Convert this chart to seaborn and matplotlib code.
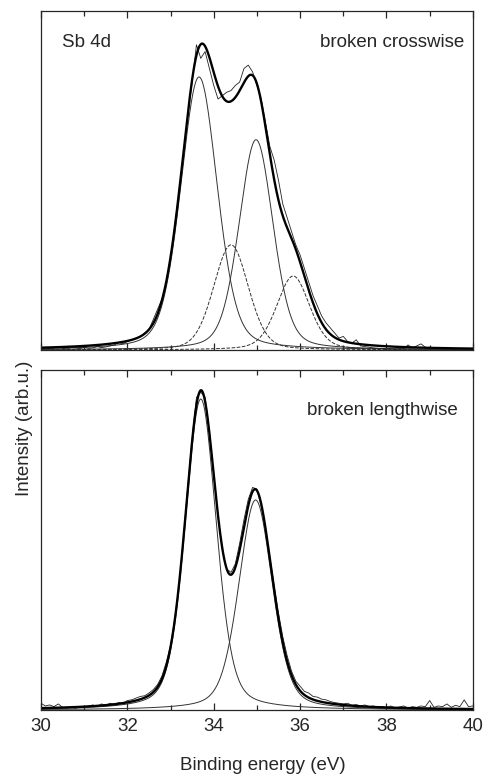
import numpy as np
import pandas as pd
import seaborn as sns
import matplotlib
matplotlib.use("Agg")
import matplotlib.pyplot as plt
from matplotlib.ticker import MultipleLocator

# --- Sb 4d peak fit parameters ---
# broken crosswise: two solid doublet components + two dashed components
cross_centers = [33.66, 34.98, 34.40, 35.84]
cross_heights = [0.805, 0.62, 0.31, 0.218]
cross_fwhm = [1.00, 0.93, 0.95, 0.90]
cross_lorentz = [0.28, 0.28, 0.22, 0.30]

# broken lengthwise: one doublet
length_centers = [33.70, 34.97]
length_heights = [0.915, 0.618]
length_fwhm = [0.85, 0.92]
length_lorentz = [0.33, 0.33]

# measured spectra, 0.1 eV steps starting at 30.0 eV
cross_measured = [
    0.005, 0.008, 0.004, 0.006, 0.010, 0.005, 0.003, 0.007, 0.006, 0.004,
    0.008, 0.005, 0.006, 0.010, 0.007, 0.009, 0.012, 0.015, 0.022, 0.018,
    0.025, 0.030, 0.035, 0.040, 0.050, 0.060, 0.090, 0.120, 0.150, 0.200,
    0.270, 0.370, 0.470, 0.580, 0.690, 0.790, 0.900, 0.860, 0.880, 0.830,
    0.780, 0.740, 0.750, 0.760, 0.765, 0.780, 0.790, 0.830, 0.840, 0.820,
    0.780, 0.740, 0.670, 0.600, 0.560, 0.500, 0.430, 0.390, 0.350, 0.310,
    0.280, 0.240, 0.200, 0.160, 0.130, 0.100, 0.080, 0.065, 0.050, 0.035,
    0.040, 0.025, 0.020, 0.030, 0.012, 0.010, 0.008, 0.006, 0.005, 0.004,
    0.003, 0.004, 0.002, 0.003, 0.004, 0.015, 0.006, 0.012, 0.018, 0.008,
    0.003,
]
length_measured = [
    0.020, 0.012, 0.015, 0.010, 0.018, 0.008, 0.006, 0.008, 0.005, 0.010,
    0.008, 0.012, 0.015, 0.010, 0.018, 0.014, 0.020, 0.017, 0.022, 0.020,
    0.028, 0.030, 0.035, 0.040, 0.042, 0.050, 0.060, 0.075, 0.100, 0.140,
    0.190, 0.270, 0.370, 0.510, 0.660, 0.800, 0.920, 0.935, 0.920, 0.820,
    0.690, 0.570, 0.470, 0.415, 0.405, 0.430, 0.490, 0.560, 0.620, 0.655,
    0.650, 0.600, 0.535, 0.450, 0.365, 0.285, 0.215, 0.160, 0.115, 0.085,
    0.070, 0.055, 0.050, 0.040, 0.038, 0.032, 0.030, 0.025, 0.022, 0.020,
    0.018, 0.020, 0.014, 0.016, 0.012, 0.015, 0.010, 0.012, 0.008, 0.010,
    0.007, 0.012, 0.006, 0.009, 0.012, 0.006, 0.010, 0.008, 0.012, 0.010,
    0.028, 0.008, 0.012, 0.010, 0.018, 0.008, 0.014, 0.010, 0.030, 0.010,
    0.012,
]

x_ticks = [30, 32, 34, 36, 38, 40]


def pseudo_voigt(e, center, height, fwhm, eta):
    x = (e - center) / fwhm
    gauss = np.exp(-4 * np.log(2) * x ** 2)
    lorentz = 1.0 / (1.0 + 4 * x ** 2)
    return height * ((1 - eta) * gauss + eta * lorentz)


sns.set_style("ticks")
plt.rcParams['font.family'] = ['Liberation Sans', 'DejaVu Sans']

fig = plt.figure(figsize=(4.91, 7.76), dpi=100)
ax_top = fig.add_axes([0.0835, 0.549, 0.8795, 0.437])
ax_bot = fig.add_axes([0.0835, 0.085, 0.8795, 0.438])

e_fine = np.linspace(30, 40, 1001)


def draw_panel(ax, centers, heights, fwhm, lorentz, measured, dashed_from):
    e_meas = np.round(30 + 0.1 * np.arange(len(measured)), 2)
    comps = [pseudo_voigt(e_fine, c, h, w, eta)
             for c, h, w, eta in zip(centers, heights, fwhm, lorentz)]
    for i, comp in enumerate(comps):
        ls = '--' if i >= dashed_from else '-'
        sns.lineplot(x=e_fine, y=comp, ax=ax, color='#333333', lw=0.7,
                     linestyle=ls, estimator=None)
    sns.lineplot(x=e_meas, y=measured, ax=ax, color='#222222', lw=0.6,
                 estimator=None)
    sns.lineplot(x=e_fine, y=np.sum(comps, axis=0), ax=ax, color='black',
                 lw=1.7, estimator=None)

    ax.set_xlim(30, 40)
    ax.set_ylim(0, 1)
    ax.set_yticks([])
    ax.set_ylabel('')
    ax.set_xlabel('')
    ax.set_xticks(x_ticks)
    ax.xaxis.set_minor_locator(MultipleLocator(1))
    ax.tick_params(axis='x', which='major', direction='in', top=True,
                   length=5, width=0.9, labelsize=13.5, pad=6)
    ax.tick_params(axis='x', which='minor', direction='in', top=True,
                   length=3.5, width=0.9)
    for sp in ax.spines.values():
        sp.set_visible(True)
        sp.set_linewidth(0.9)


draw_panel(ax_top, cross_centers, cross_heights, cross_fwhm, cross_lorentz,
           cross_measured, dashed_from=2)
draw_panel(ax_bot, length_centers, length_heights, length_fwhm,
           length_lorentz, length_measured, dashed_from=2)

ax_top.tick_params(axis='x', labelbottom=False)

ax_top.text(0.049, 0.908, 'Sb 4d', transform=ax_top.transAxes, fontsize=13.5,
            ha='left', va='center')
ax_top.text(0.981, 0.908, 'broken crosswise', transform=ax_top.transAxes,
            fontsize=13.5, ha='right', va='center')
ax_bot.text(0.965, 0.882, 'broken lengthwise', transform=ax_bot.transAxes,
            fontsize=13.5, ha='right', va='center')

fig.text(263 / 491, 1 - 766 / 776, 'Binding energy (eV)', fontsize=13.5,
         ha='center', va='center')
fig.text(0.05, 1 - 428 / 776, 'Intensity (arb.u.)', rotation=90,
         fontsize=13.5, ha='center', va='center')

fig.savefig('out.png', dpi=100)
